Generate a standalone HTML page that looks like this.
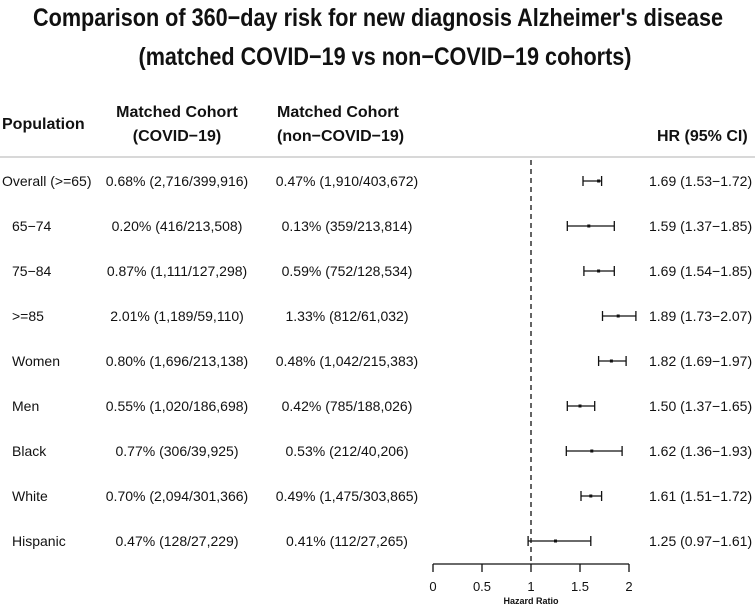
<!DOCTYPE html>
<html><head><meta charset="utf-8"><style>
html,body{margin:0;padding:0;background:#fff;}
svg{display:block;font-family:"Liberation Sans",Arial,sans-serif;}
</style></head><body>
<svg width="755" height="606" viewBox="0 0 755 606" xmlns="http://www.w3.org/2000/svg">
<g font-weight="bold" fill="#111" font-size="25">
<text x="378" y="26" text-anchor="middle" textLength="690" lengthAdjust="spacingAndGlyphs">Comparison of 360−day risk for new diagnosis Alzheimer's disease</text>
<text x="385" y="65" text-anchor="middle" textLength="493" lengthAdjust="spacingAndGlyphs">(matched COVID−19 vs non−COVID−19 cohorts)</text>
</g>
<g font-weight="bold" font-size="16" fill="#111">
<text x="2" y="129">Population</text>
<text x="177" y="117" text-anchor="middle">Matched Cohort</text>
<text x="177" y="141" text-anchor="middle">(COVID−19)</text>
<text x="277" y="117">Matched Cohort</text>
<text x="277" y="141">(non−COVID−19)</text>
<text x="657" y="141">HR (95% CI)</text>
</g>
<line x1="0" y1="157" x2="755" y2="157" stroke="#ccc" stroke-width="1.5"/>
<line x1="531" y1="160" x2="531" y2="564" stroke="#111" stroke-width="1.3" stroke-dasharray="5,4"/>
<g font-size="14" fill="#111">
<text x="2" y="186">Overall (&gt;=65)</text>
<text x="12" y="231">65−74</text>
<text x="12" y="276">75−84</text>
<text x="12" y="321">&gt;=85</text>
<text x="12" y="366">Women</text>
<text x="12" y="411">Men</text>
<text x="12" y="456">Black</text>
<text x="12" y="501">White</text>
<text x="12" y="546">Hispanic</text>
</g>
<g font-size="14" fill="#111" text-anchor="middle">
<text x="177" y="186">0.68% (2,716/399,916)</text>
<text x="177" y="231">0.20% (416/213,508)</text>
<text x="177" y="276">0.87% (1,111/127,298)</text>
<text x="177" y="321">2.01% (1,189/59,110)</text>
<text x="177" y="366">0.80% (1,696/213,138)</text>
<text x="177" y="411">0.55% (1,020/186,698)</text>
<text x="177" y="456">0.77% (306/39,925)</text>
<text x="177" y="501">0.70% (2,094/301,366)</text>
<text x="177" y="546">0.47% (128/27,229)</text>
<text x="347" y="186">0.47% (1,910/403,672)</text>
<text x="347" y="231">0.13% (359/213,814)</text>
<text x="347" y="276">0.59% (752/128,534)</text>
<text x="347" y="321">1.33% (812/61,032)</text>
<text x="347" y="366">0.48% (1,042/215,383)</text>
<text x="347" y="411">0.42% (785/188,026)</text>
<text x="347" y="456">0.53% (212/40,206)</text>
<text x="347" y="501">0.49% (1,475/303,865)</text>
<text x="347" y="546">0.41% (112/27,265)</text>
</g>
<g font-size="14" fill="#111">
<text x="649" y="186">1.69 (1.53−1.72)</text>
<text x="649" y="231">1.59 (1.37−1.85)</text>
<text x="649" y="276">1.69 (1.54−1.85)</text>
<text x="649" y="321">1.89 (1.73−2.07)</text>
<text x="649" y="366">1.82 (1.69−1.97)</text>
<text x="649" y="411">1.50 (1.37−1.65)</text>
<text x="649" y="456">1.62 (1.36−1.93)</text>
<text x="649" y="501">1.61 (1.51−1.72)</text>
<text x="649" y="546">1.25 (0.97−1.61)</text>
</g>
<g stroke="#111" stroke-width="1.3" fill="none">
<path d="M583 181H601.6M583 176V186M601.6 176V186"/>
<path d="M567.3 226H614.3M567.3 221V231M614.3 221V231"/>
<path d="M583.9 271H614.3M583.9 266V276M614.3 266V276"/>
<path d="M602.5 316H635.9M602.5 311V321M635.9 311V321"/>
<path d="M598.6 361H626.1M598.6 356V366M626.1 356V366"/>
<path d="M567.3 406H594.7M567.3 401V411M594.7 401V411"/>
<path d="M566.3 451H622.1M566.3 446V456M622.1 446V456"/>
<path d="M581 496H601.6M581 491V501M601.6 491V501"/>
<path d="M528.1 541H590.8M528.1 536V546M590.8 536V546"/>
</g>
<g fill="#111">
<rect x="597.1" y="179.5" width="3" height="3"/>
<rect x="587.3" y="224.5" width="3" height="3"/>
<rect x="597.1" y="269.5" width="3" height="3"/>
<rect x="616.7" y="314.5" width="3" height="3"/>
<rect x="609.9" y="359.5" width="3" height="3"/>
<rect x="578.5" y="404.5" width="3" height="3"/>
<rect x="590.3" y="449.5" width="3" height="3"/>
<rect x="589.3" y="494.5" width="3" height="3"/>
<rect x="554" y="539.5" width="3" height="3"/>
</g>
<g stroke="#111" stroke-width="1.3" fill="none">
<line x1="433" y1="564" x2="629" y2="564"/>
<line x1="433" y1="564" x2="433" y2="572"/>
<line x1="482" y1="564" x2="482" y2="572"/>
<line x1="531" y1="564" x2="531" y2="572"/>
<line x1="580" y1="564" x2="580" y2="572"/>
<line x1="629" y1="564" x2="629" y2="572"/>
</g>
<g font-size="13" fill="#111" text-anchor="middle">
<text x="433" y="591">0</text><text x="482" y="591">0.5</text><text x="531" y="591">1</text><text x="580" y="591">1.5</text><text x="629" y="591">2</text>
</g>
<text x="531" y="604" font-size="9" font-weight="bold" text-anchor="middle" fill="#111">Hazard Ratio</text>
</svg>
</body></html>
